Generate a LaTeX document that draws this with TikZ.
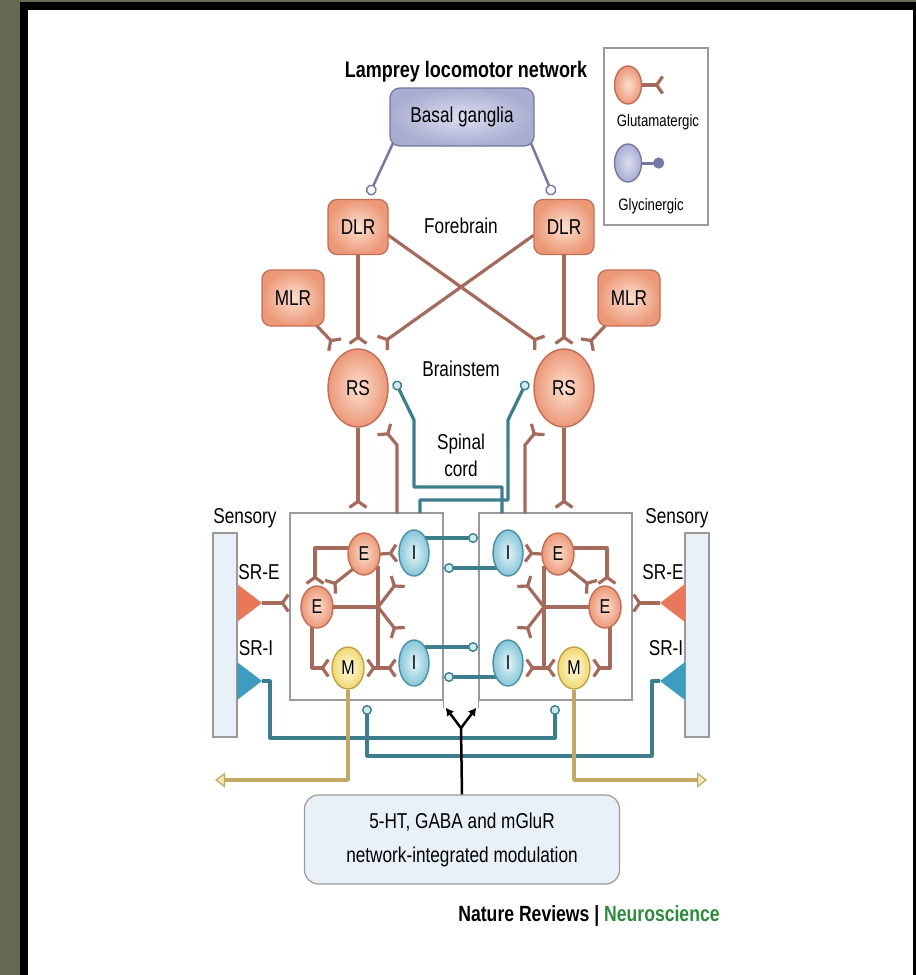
\documentclass[tikz,border=0pt]{standalone}
\usepackage{fontspec}
\setmainfont{Liberation Sans}[FakeStretch=0.8]
\usetikzlibrary{shapes.geometric,arrows.meta,calc}
\definecolor{olivebg}{HTML}{676A52}
\definecolor{peachL}{HTML}{FCE0D0}
\definecolor{peachM}{HTML}{EC9877}
\definecolor{peachD}{HTML}{C06E55}
\definecolor{lavL}{HTML}{DCDFF0}
\definecolor{lavM}{HTML}{A9ADD0}
\definecolor{lavD}{HTML}{7478A3}
\definecolor{tealL}{HTML}{E6F5F9}
\definecolor{tealM}{HTML}{86C6D8}
\definecolor{tealD}{HTML}{4B8FA6}
\definecolor{yelL}{HTML}{FFFBE2}
\definecolor{yelM}{HTML}{F0D872}
\definecolor{yelD}{HTML}{C4A044}
\definecolor{brn}{HTML}{A46A5C}
\definecolor{tealc}{HTML}{3E7D8C}
\definecolor{tealF}{HTML}{CDEBF3}
\definecolor{goldc}{HTML}{C2A865}
\definecolor{goldF}{HTML}{F3E7B8}
\definecolor{sensF}{HTML}{E8F1F8}
\definecolor{boxG}{HTML}{9A9A9A}
\definecolor{srE}{HTML}{E9785B}
\definecolor{srI}{HTML}{3D9CC0}
\definecolor{nrgreen}{HTML}{2E8B3E}
\pgfdeclarelayer{bg}
\pgfdeclarelayer{lines}
\pgfsetlayers{bg,lines,main}
\tikzset{
  lbl/.style={inner sep=0pt, font=\fontsize{21.5}{26}\selectfont},
  pbox/.style={rectangle, rounded corners=9pt, draw=peachD, line width=1.3pt, inner color=peachL, outer color=peachM, minimum width=60pt, minimum height=55pt, inner sep=0pt, font=\fontsize{21.5}{26}\selectfont},
  vbox/.style={rectangle, rounded corners=10pt, draw=lavD, line width=1.3pt, inner color=lavL, outer color=lavM, minimum width=144pt, minimum height=58pt, inner sep=0pt, font=\fontsize{21.5}{26}\selectfont},
  neu/.style={ellipse, inner sep=0pt, line width=1.4pt, font=\fontsize{20}{22}\selectfont},
  pneu/.style={neu, draw=peachD, inner color=peachL, outer color=peachM},
  vneu/.style={neu, draw=lavD, inner color=lavL, outer color=lavM},
  tneu/.style={neu, draw=tealD, inner color=tealL, outer color=tealM, minimum width=30pt, minimum height=46pt},
  yneu/.style={neu, draw=yelD, inner color=yelL, outer color=yelM, minimum width=32pt, minimum height=42pt},
  eneu/.style={pneu, minimum width=32pt, minimum height=42pt},
  hbox/.style={rectangle, draw=boxG, line width=1.2pt, fill=white, inner sep=0pt, minimum width=153pt, minimum height=187pt},
  sbar/.style={rectangle, draw=boxG, line width=1.2pt, fill=sensF, minimum width=24pt, minimum height=204pt, inner sep=0pt},
  modbox/.style={rectangle, rounded corners=14pt, draw=boxG, line width=1.2pt, fill=sensF, minimum width=315pt, minimum height=89pt, align=center, inner sep=0pt, font=\fontsize{21.5}{34}\selectfont},
  legbox/.style={rectangle, draw=boxG, line width=1.2pt, fill=white, minimum width=104pt, minimum height=177pt, inner sep=0pt},
  boxline/.style={draw=boxG, line width=1.2pt},
  br/.style={draw=brn, line width=3.2pt, line join=round},
  glu/.style={br, -{Straight Barb[reversed, length=6pt, width=17pt]}},
  glyt/.style={draw=tealc, line width=3.2pt, line join=round, -{Circle[length=10pt, fill=tealF, line width=1.4pt]}},
  glyg/.style={draw=lavD, line width=2.5pt, -{Circle[length=11pt, fill=white, line width=1.4pt]}},
  glyl/.style={draw=lavD, line width=3pt, -{Circle[length=11pt, fill=lavD]}},
  gld/.style={draw=goldc, line width=3.5pt, line join=round, -{Triangle[length=10pt, width=15pt, fill=goldF, line width=1.2pt]}},
  blk/.style={draw=black, line width=2.5pt},
}
\begin{document}
\begin{tikzpicture}[x=1pt,y=-1pt]
\useasboundingbox (0,0) rectangle (916,975);
\begin{pgfonlayer}{bg}
\fill[olivebg] (0,0) rectangle (916,975);
\fill[black] (20,2) rectangle (916,975);
\fill[white] (28,10) rectangle (913,975);
\node[legbox] (LEG) at (656,136.5) {};
\node[hbox] (LB) at (366.5,606.5) {};
\node[hbox] (RB) at (555.5,606.5) {};
\node[sbar] (SBL) at (225,635) {};
\node[sbar] (SBR) at (697,635) {};
\node[modbox] (MOD) at (462,839.5) {5-HT, GABA and mGluR\\network-integrated modulation};
\end{pgfonlayer}

% texts
\node[lbl, font=\bfseries\fontsize{22.5}{26}\selectfont] (title) at (466,72) {Lamprey locomotor network};
\node[lbl, font=\fontsize{16.5}{19}\selectfont] (LT1) at (658,122) {Glutamatergic};
\node[lbl, font=\fontsize{16.5}{19}\selectfont] (LT2) at (651,206) {Glycinergic};
\node[lbl] (fb) at (461,226) {Forebrain};
\node[lbl] (bs) at (461,369) {Brainstem};
\node[lbl, align=center, font=\fontsize{21.5}{27}\selectfont] (sc) at (461,455) {Spinal\\cord};
\node[lbl] (sensL) at (245,518) {Sensory};
\node[lbl] (sensR) at (677,518) {Sensory};
\node[lbl] (sreLt) at (259,572) {SR-E};
\node[lbl] (sreRt) at (663,572) {SR-E};
\node[lbl] (sriLt) at (256,648) {SR-I};
\node[lbl] (sriRt) at (666,648) {SR-I};
\node[lbl, font=\bfseries\fontsize{22}{26}\selectfont] (nr) at (589,916) {Nature Reviews | \textcolor{nrgreen}{Neuroscience}};

% legend neurons
\node[pneu, minimum width=27pt, minimum height=38pt] (LG1) at (628,85) {};
\node[vneu, minimum width=27pt, minimum height=38pt] (LG2) at (628,163) {};

% upper nodes
\node[vbox] (BG) at (462,117) {Basal ganglia};
\node[pbox] (DLRL) at (358,227) {DLR};
\node[pbox] (DLRR) at (564,227) {DLR};
\node[pbox, minimum width=62pt, minimum height=56pt] (MLRL) at (293,298) {MLR};
\node[pbox, minimum width=62pt, minimum height=56pt] (MLRR) at (629,298) {MLR};
\node[pneu, minimum width=60pt, minimum height=78pt, font=\fontsize{21.5}{26}\selectfont] (RSL) at (358,388) {RS};
\node[pneu, minimum width=60pt, minimum height=78pt, font=\fontsize{21.5}{26}\selectfont] (RSR) at (564,388) {RS};

% spinal neurons
\node[eneu] (ETL) at (364,554) {E};
\node[eneu] (ETR) at (558,554) {E};
\node[eneu] (ELL) at (317,607) {E};
\node[eneu] (ELR) at (605,607) {E};
\node[tneu] (ITL) at (414,553) {I};
\node[tneu] (ITR) at (508,553) {I};
\node[tneu] (IBL) at (414,663) {I};
\node[tneu] (IBR) at (508,663) {I};
\node[yneu] (ML) at (348,668) {M};
\node[yneu] (MR) at (574,668) {M};

% sensory triangles
\coordinate (sreL) at (262,603);
\coordinate (sreR) at (660,603);
\coordinate (sriL) at (262,681);
\coordinate (sriR) at (660,681);
\fill[srE] (237,584) -- (sreL) -- (237,622) -- cycle;
\fill[srE] (685,584) -- (sreR) -- (685,622) -- cycle;
\fill[srI] (237,662) -- (sriL) -- (237,700) -- cycle;
\fill[srI] (685,662) -- (sriR) -- (685,700) -- cycle;

\begin{pgfonlayer}{lines}
\draw[glu] (LG1.east) -- ++(22,0);
\draw[glyl] (LG2.east) -- ++(22,0);

\foreach \s/\o/\m/\ty/\iy/\sy in {L/R/1/99/-15/738, R/L/-1/112/15/756}{
  \draw[glyg] ($(BG)+({\m*(-68)},24)$) -- ($(DLR\s)+({\m*11},-32)$);
  \draw[glu] (DLR\s.south) -- ($(RS\s)+(0,-43)$);
  \draw[glu] ($(MLR\s)+({\m*24},28)$) -- ($(RS\s)+({\m*(-22)},-42)$);
  \draw[glu] ($(DLR\s)+({\m*30},8)$) -- ($(RS\o)+({\m*(-23)},-44)$);
  \draw[glu] (RS\s.south) -- ($(RS\s)+(0,121)$);
  \draw[glu] ($(RS\s)+({\m*39},125)$) -- ($(RS\s)+({\m*39},57)$) -- ($(RS\s)+({\m*25},40)$);
  \draw[glyt] ($(RS\o)+({\m*(-62)},125)$) -- ($(RS\o)+({\m*(-62)},\ty)$) -- ($(RS\s)+({\m*56},\ty)$) -- ($(RS\s)+({\m*56},32)$) -- ($(RS\s)+({\m*37},-7)$);
  % inhibitory crossing
  \draw[glyt] ($(IT\s)+({\m*11},\iy)$) -- ($(IT\s)+({\m*64},\iy)$);
  \draw[glyt] ($(IB\s)+({\m*11},{\iy-1})$) -- ($(IB\s)+({\m*64},{\iy-1})$);
  % spinal excitatory
  \draw[glu] ($(ET\s)+({\m*(-15)},-6)$) -- ($(ET\s)+({\m*(-49)},-6)$) -- ($(EL\s)+({\m*(-2)},-22)$);
  \draw[glu] ($(ET\s)+({\m*(-11)},15)$) -- ($(EL\s)+({\m*12},-19)$);
  \draw[br] ($(EL\s)+({\m*15},0)$) -- ($(EL\s)+({\m*61},0)$) coordinate (jx\s);
  \draw[glu] (jx\s) -- ($(IT\s)+({\m*(-15)},27)$);
  \draw[glu] (jx\s) -- ($(IB\s)+({\m*(-15)},-29)$);
  \draw[br] ($(ET\s)+({\m*14},12)$) -- ($(ET\s)+({\m*14},114)$) coordinate (jv\s);
  \draw[glu] (jv\s) -- ($(M\s)+({\m*18},0)$);
  \draw[glu] (jv\s) -- ($(IB\s)+({\m*(-17)},5)$);
  \draw[glu] ($(ET\s)+({\m*16},0)$) -- ($(IT\s)+({\m*(-16)},0)$);
  \draw[glu] ($(EL\s)+({\m*(-5)},20)$) -- ($(EL\s)+({\m*(-5)},61)$) -- ($(M\s)+({\m*(-18)},0)$);
  % sensory
  \draw[glu] (sre\s) -- ($(sre\s)+({\m*28},0)$);
  \draw[glyt] (sri\s) -| ($(sri\s)+({\m*8},{\sy-681})$) -| ($(M\o)+({\m*(-19)},37)$);
  % motor output
  \draw[gld] (M\s.south) |- ($(M\s)+({\m*(-133)},112)$);
}
% modulation
\coordinate (bj) at (461,728);
\draw[boxline] (LB.south east) -- ++(0,7);
\draw[boxline] (RB.south west) -- ++(0,7);
\draw[blk] (MOD.north) -- (bj);
\draw[blk, -{Latex[length=8pt,width=9pt]}] (bj) -- ($(LB.south east)+(2,7)$);
\draw[blk, -{Latex[length=8pt,width=9pt]}] (bj) -- ($(RB.south west)+(-2,7)$);
\end{pgfonlayer}
\end{tikzpicture}
\end{document}
